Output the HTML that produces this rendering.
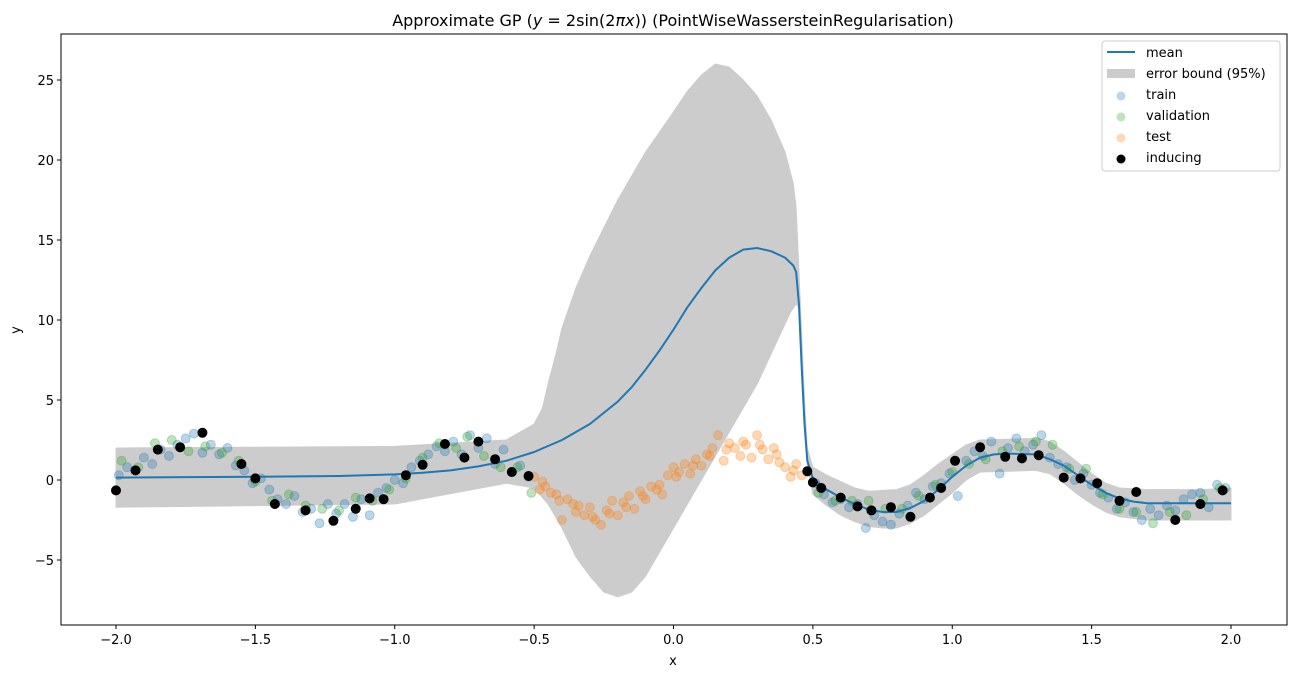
<!DOCTYPE html>
<html><head><meta charset="utf-8"><style>
body{margin:0;background:#fff;}
svg{display:block;font-family:"DejaVu Sans","Liberation Sans",sans-serif;}
</style></head><body>
<svg id="chart" width="1296" height="678"></svg>
<script>
const meanX=[-2,-1.5,-1.2,-1,-0.9,-0.8,-0.7,-0.6,-0.5,-0.4,-0.3,-0.2,-0.15,-0.1,-0.05,0,0.05,0.1,0.15,0.2,0.25,0.3,0.35,0.4,0.43,0.44,0.45,0.46,0.47,0.48,0.5,0.55,0.6,0.65,0.7,0.75,0.8,0.85,0.9,0.95,1.0,1.05,1.1,1.15,1.2,1.3,1.35,1.4,1.45,1.5,1.55,1.6,1.65,1.7,2.0];
const meanY=[0.15,0.2,0.25,0.35,0.45,0.6,0.85,1.2,1.75,2.5,3.5,4.9,5.8,6.9,8.1,9.4,10.8,12,13.1,13.9,14.4,14.5,14.3,13.9,13.4,13,11,7,3.5,1.2,0.1,-0.6,-1.1,-1.5,-1.85,-2.0,-2.0,-1.75,-1.3,-0.6,0.2,0.9,1.4,1.6,1.65,1.6,1.3,0.9,0.3,-0.3,-0.8,-1.15,-1.35,-1.45,-1.45];
const upperX=[-2,-1,-0.6,-0.55,-0.5,-0.47,-0.45,-0.42,-0.4,-0.35,-0.3,-0.2,-0.1,0,0.05,0.1,0.15,0.2,0.25,0.3,0.35,0.4,0.43,0.44,0.45,0.46,0.47,0.48,0.5,0.55,0.6,0.65,0.7,0.8,0.85,0.9,0.95,1.0,1.05,1.1,1.3,1.35,1.4,1.45,1.5,1.55,1.6,1.7,1.9,2.0];
const bandUpper=[2.0,2.1,2.5,3.0,3.5,4.5,6,8,9.5,12,14,17.5,20.5,23,24.3,25.3,26,25.8,25,24,22.5,20.5,18.5,17,13,9,5,2,0.8,0.3,-0.1,-0.5,-0.7,-0.6,-0.3,0.3,1.0,1.6,2.2,2.5,2.6,2.4,1.8,1.1,0.4,-0.2,-0.5,-0.6,-0.6,-0.5];
const lowerX=[-2,-1,-0.6,-0.5,-0.45,-0.4,-0.35,-0.3,-0.25,-0.2,-0.15,-0.1,-0.05,0,0.1,0.2,0.3,0.38,0.42,0.44,0.45,0.46,0.47,0.48,0.5,0.55,0.6,0.65,0.7,0.75,0.8,0.85,0.9,0.95,1.0,1.05,1.1,1.3,1.35,1.4,1.45,1.5,1.55,1.6,1.7,2.0];
const bandLower=[-1.7,-1.5,-0.2,-0.5,-1.5,-3,-4.8,-6,-7,-7.3,-7.0,-6,-4.5,-3,0,3,6,9,10.5,11,10.8,8,4,1,-0.9,-1.6,-2.2,-2.6,-2.9,-3.0,-3.0,-2.7,-2.2,-1.5,-0.8,0,0.5,0.6,0.4,-0.2,-0.9,-1.5,-2.0,-2.3,-2.5,-2.5];
const trainX=[-1.99,-1.96,-1.93,-1.90,-1.87,-1.84,-1.81,-1.78,-1.75,-1.72,-1.69,-1.66,-1.63,-1.60,-1.57,-1.54,-1.51,-1.48,-1.45,-1.42,-1.39,-1.36,-1.33,-1.30,-1.27,-1.24,-1.21,-1.18,-1.15,-1.12,-1.09,-1.06,-1.03,-1.00,-0.97,-0.94,-0.91,-0.88,-0.85,-0.82,-0.79,-0.76,-0.73,-0.70,-0.67,-0.64,-0.61,-0.58,-0.55,-0.52,
0.51,0.54,0.57,0.60,0.63,0.66,0.69,0.72,0.75,0.78,0.81,0.84,0.87,0.90,0.93,0.96,0.99,1.02,1.05,1.08,1.11,1.14,1.17,1.20,1.23,1.26,1.29,1.32,1.35,1.38,1.41,1.44,1.47,1.50,1.53,1.56,1.59,1.62,1.65,1.68,1.71,1.74,1.77,1.80,1.83,1.86,1.89,1.92,1.95,1.98];
const trainY=[0.3,0.8,0.6,1.4,1.0,1.9,1.5,2.2,2.6,2.9,1.7,2.2,1.6,2.0,0.9,0.6,-0.2,0.1,-0.6,-1.2,-1.5,-1.0,-2.0,-1.8,-2.7,-1.5,-2.1,-1.5,-2.3,-1.2,-2.2,-0.8,-0.5,0.0,-0.2,0.8,1.2,1.6,2.1,1.8,2.4,1.6,2.8,2.0,2.6,1.0,1.9,0.5,0.9,0.2,
-0.2,-0.9,-1.4,-1.2,-1.7,-1.5,-3.0,-2.2,-2.6,-2.8,-2.1,-1.6,-0.8,-1.2,-0.4,-0.2,0.4,-1.0,1.2,1.8,1.5,2.4,0.4,2.0,2.6,1.8,2.2,2.8,1.4,1.0,0.8,0.0,0.4,-0.3,-0.8,-1.1,-1.8,-1.4,-2.0,-2.5,-1.8,-2.2,-1.6,-1.9,-1.2,-0.9,-0.8,-1.7,-0.3,-0.5];
const valX=[-1.98,-1.92,-1.86,-1.80,-1.74,-1.68,-1.62,-1.56,-1.50,-1.44,-1.38,-1.32,-1.26,-1.20,-1.14,-1.08,-1.02,-0.96,-0.90,-0.84,-0.78,-0.74,-0.68,-0.62,-0.56,-0.51,
0.52,0.58,0.64,0.70,0.76,0.82,0.88,0.94,1.00,1.06,1.12,1.18,1.24,1.30,1.36,1.42,1.48,1.54,1.60,1.66,1.72,1.78,1.84,1.90,1.96];
const valY=[1.2,0.8,2.3,2.5,1.8,2.1,1.7,1.2,-0.1,-1.3,-0.9,-1.6,-1.8,-1.9,-1.1,-1.3,-0.6,0.1,1.4,2.3,2.0,2.7,1.5,0.8,0.8,-0.8,
-0.8,-1.3,-1.3,-1.3,-1.8,-1.8,-1.0,-0.3,0.5,1.0,1.3,1.8,2.1,2.4,2.2,0.7,0.7,-0.9,-1.8,-2.0,-2.7,-2.0,-2.2,-1.2,-0.5];
const testX=[-0.50,-0.48,-0.46,-0.44,-0.42,-0.40,-0.38,-0.36,-0.34,-0.32,-0.30,-0.28,-0.26,-0.24,-0.22,-0.20,-0.18,-0.16,-0.14,-0.12,-0.10,-0.08,-0.06,-0.04,-0.02,0.00,0.02,0.04,0.06,0.08,0.10,0.12,0.14,0.16,0.18,0.20,0.22,0.24,0.26,0.28,0.30,0.32,0.34,0.36,0.38,0.40,0.42,0.44,0.46,0.48,
-0.47,-0.41,-0.35,-0.29,-0.23,-0.17,-0.11,-0.05,0.01,0.07,0.13,0.19,0.25,0.31,0.37,0.43];
const testY=[0.2,-0.6,-0.4,-0.8,-0.9,-2.5,-1.2,-1.5,-1.6,-2.2,-1.7,-2.5,-2.8,-1.9,-1.3,-2.2,-1.4,-1.0,-1.8,-0.7,-1.2,-0.4,-0.6,-0.9,0.3,0.8,0.5,1.0,0.4,1.3,0.9,1.6,2.0,2.8,1.2,2.3,2.0,1.5,2.2,1.4,2.8,1.9,1.3,2.0,1.1,0.8,0.2,1.0,0.3,0.5,
-0.1,-1.3,-2.0,-2.3,-2.1,-1.7,-1.0,-0.3,0.2,0.9,1.5,1.9,2.4,2.2,1.6,0.6];
const indX=[-2.0,-1.93,-1.85,-1.77,-1.69,-1.55,-1.5,-1.43,-1.32,-1.22,-1.14,-1.09,-1.04,-0.96,-0.9,-0.82,-0.75,-0.7,-0.64,-0.58,-0.52,0.48,0.5,0.53,0.6,0.66,0.71,0.78,0.85,0.92,0.96,1.01,1.1,1.19,1.25,1.31,1.4,1.46,1.52,1.6,1.66,1.8,1.89,1.97];
const indY=[-0.65,0.6,1.9,2.05,2.95,1.0,0.1,-1.5,-1.9,-2.55,-1.8,-1.15,-1.2,0.3,0.95,2.25,1.4,2.4,1.3,0.5,0.25,0.55,-0.15,-0.5,-1.1,-1.65,-1.9,-1.7,-2.3,-1.1,-0.5,1.2,2.05,1.45,1.35,1.55,0.15,0.1,-0.2,-1.3,-0.75,-2.5,-1.5,-0.65];
const xTicks=[-2.0,-1.5,-1.0,-0.5,0.0,0.5,1.0,1.5,2.0];
const xTickLabels=["−2.0","−1.5","−1.0","−0.5","0.0","0.5","1.0","1.5","2.0"];
const yTicks=[-5,0,5,10,15,20,25];
const yTickLabels=["−5","0","5","10","15","20","25"];

const L=61,R=1287,T=34,B=625;
const sx=v=>673.5+v*278.75;
const sy=v=>480-v*16;
const svg=document.getElementById('chart');
const NS='http://www.w3.org/2000/svg';
function mk(tag,attrs,parent){const e=document.createElementNS(NS,tag);for(const k in attrs)e.setAttribute(k,attrs[k]);(parent||svg).appendChild(e);return e;}

let d='M'+upperX.map((x,i)=>sx(x)+','+sy(bandUpper[i])).join('L');
for(let i=lowerX.length-1;i>=0;i--)d+='L'+sx(lowerX[i])+','+sy(bandLower[i]);
const band=mk('path',{d:d+'Z',fill:'#cccccc','stroke':'#cccccc','stroke-linejoin':'round'});



function scatter(xs,ys,color,op,name){
  const g=mk('g',{});
  
  
  xs.forEach((x,i)=>{const c=mk('circle',{cx:sx(x),cy:sy(ys[i]),r:4.5,fill:color,'fill-opacity':op,stroke:color,'stroke-opacity':op},g);
    
    });
}
scatter(trainX,trainY,'#1f77b4',0.3,'train-points');
scatter(valX,valY,'#2ca02c',0.3,'validation-points');
scatter(testX,testY,'#ff7f0e',0.3,'test-points');

const mean=mk('polyline',{points:meanX.map((x,i)=>sx(x)+','+sy(meanY[i])).join(' '),fill:'none',stroke:'#1f77b4','stroke-width':2,'stroke-linejoin':'round'});



scatter(indX,indY,'#000000',1,'inducing-points');

const fr=mk('rect',{x:L,y:T,width:R-L,height:B-T,fill:'none',stroke:'#000','stroke-width':1});


xTicks.forEach((v,i)=>{mk('line',{x1:sx(v),x2:sx(v),y1:B,y2:B+4,stroke:'#000'});
  const t=mk('text',{x:sx(v),y:B+19,'text-anchor':'middle','font-size':13,fill:'#000'});t.textContent=xTickLabels[i];
  
  });
yTicks.forEach((v,i)=>{mk('line',{x1:L-4,x2:L,y1:sy(v),y2:sy(v),stroke:'#000'});
  const t=mk('text',{x:L-7,y:sy(v)+5,'text-anchor':'end','font-size':13,fill:'#000'});t.textContent=yTickLabels[i];
  
  });
</script>
<svg style="position:absolute;left:0;top:0" width="1296" height="678">
<text x="673" y="26" text-anchor="middle" font-size="16" font-family="DejaVu Sans, Liberation Sans, sans-serif">Approximate GP (<tspan font-style="italic">y</tspan> = 2sin(2<tspan font-style="italic">πx</tspan>)) (PointWiseWassersteinRegularisation)</text>
<text x="673" y="665" text-anchor="middle" font-size="13" font-family="DejaVu Sans, sans-serif">x</text>
<text x="20" y="330" text-anchor="middle" font-size="13" font-family="DejaVu Sans, sans-serif" transform="rotate(-90 20 330)">y</text>
<g font-family="DejaVu Sans, sans-serif" font-size="13">
<rect x="1102" y="41" width="178" height="130" rx="3" fill="#fff" fill-opacity="0.8" stroke="#ccc"/>
<line x1="1107" y1="52" x2="1135" y2="52" stroke="#1f77b4" stroke-width="2"/>
<text x="1146" y="57">mean</text>
<rect x="1107" y="69" width="28" height="9" fill="#cccccc"/>
<text x="1146" y="78">error bound (95%)</text>
<circle cx="1121" cy="96" r="4.5" fill="#1f77b4" fill-opacity="0.3"/>
<text x="1146" y="99">train</text>
<circle cx="1121" cy="117" r="4.5" fill="#2ca02c" fill-opacity="0.3"/>
<text x="1146" y="120">validation</text>
<circle cx="1121" cy="138" r="4.5" fill="#ff7f0e" fill-opacity="0.3"/>
<text x="1146" y="141">test</text>
<circle cx="1121" cy="159" r="4.5" fill="#000"/>
<text x="1146" y="162">inducing</text>
</g>
</svg>
</body></html>
